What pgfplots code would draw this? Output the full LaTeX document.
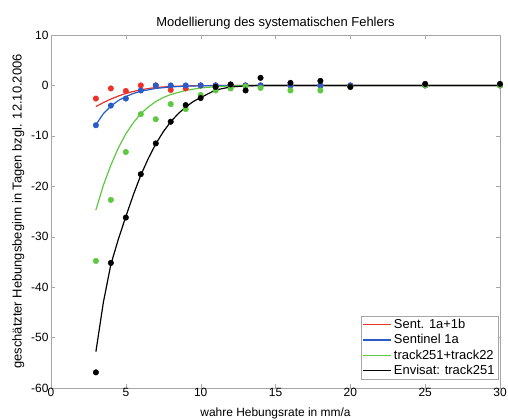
\documentclass[border=0pt]{standalone}
\usepackage{fontspec}
\setmainfont{Liberation Sans}
\usepackage{pgfplots}
\pgfplotsset{compat=1.18}

\definecolor{mred}{RGB}{235,50,40}
\definecolor{mblue}{RGB}{40,90,200}
\definecolor{mgreen}{RGB}{95,200,65}

\begin{document}
\begin{tikzpicture}
\begin{axis}[
  scale only axis, width=449bp, height=353bp,
  xmin=0, xmax=30, ymin=-60, ymax=10,
  xtick={0,5,...,30}, ytick={-60,-50,...,10},
  tick align=inside, tick pos=both,
  axis line style={gray!70}, tick style={gray!70},
  major tick length=4bp,
  /pgf/number format/assume math mode=true,
  tick label style={font=\fontsize{12}{14}\selectfont},
  xticklabel style={yshift=3bp},
  yticklabel style={xshift=1bp},
  title style={font=\fontsize{13}{15}\selectfont, yshift=-4bp},
  title={Modellierung des systematischen Fehlers},
  xlabel={wahre Hebungsrate in mm/a},
  ylabel={geschätzter Hebungsbeginn in Tagen bzgl. 12.10.2006},
  xlabel style={font=\fontsize{12}{14}\selectfont, inner sep=0pt,
    at={(rel axis cs:0.5,0)}, anchor=south, yshift=-31.5bp},
  ylabel style={font=\fontsize{13}{15}\selectfont, yshift=0bp},
  legend style={at={(rel axis cs:0.996,0.023)}, anchor=south east,
    font=\fontsize{13}{14}\selectfont, draw=gray!70, inner sep=1.5bp,
    row sep=0.5bp},
  legend cell align=left,
  legend image code/.code={\draw[#1, line width=1.4pt] (0cm,0cm) -- (1.0cm,0cm);},
  mark options={solid}]

% data points
\addplot[only marks, mark=*, mark size=2.8pt, mred, forget plot] coordinates {
  (3,-2.6) (4,-0.6) (5,-1.1) (6,0) (7,0) (8,-0.9) (9,-0.6) (10,0)
  (11,0) (12,0) (13,0) (14,0) (16,0) (18,0) (20,0) (25,0) (30,0)};
\addplot[only marks, mark=*, mark size=2.8pt, mblue, forget plot] coordinates {
  (3,-7.9) (4,-4.0) (5,-2.6) (6,-1.0) (7,0) (8,0) (9,0) (10,0)
  (11,0) (12,0) (13,0) (14,0) (16,0) (18,0) (20,0) (25,0) (30,0)};
\addplot[only marks, mark=*, mark size=2.8pt, mgreen, forget plot] coordinates {
  (3,-34.8) (4,-22.7) (5,-13.2) (6,-5.7) (7,-6.7) (8,-3.7) (9,-4.7) (10,-1.9)
  (11,-1.0) (12,-0.6) (13,-0.2) (14,-0.5) (16,-1.0) (18,-1.0) (20,-0.3) (25,0) (30,0)};
\addplot[only marks, mark=*, mark size=2.8pt, black, forget plot] coordinates {
  (3,-56.9) (4,-35.2) (5,-26.2) (6,-17.6) (7,-11.5) (8,-7.2) (9,-3.9) (10,-2.5)
  (11,-0.3) (12,0.2) (13,-1.0) (14,1.5) (16,0.5) (18,0.9) (20,-0.3) (25,0.3) (30,0.3)};

% fitted curves
\addplot[mred, line width=1.2pt, no marks] coordinates {
  (3,-4.2) (3.5,-3.4) (4,-2.7) (4.5,-2.1) (5,-1.6) (5.5,-1.2) (6,-0.85)
  (7,-0.4) (8,-0.2) (9,-0.1) (10,-0.05) (12,0) (30,0)};
\addplot[mblue, line width=1.2pt, no marks] coordinates {
  (3,-7.8) (3.5,-5.6) (4,-4.1) (4.5,-3.0) (5,-2.2) (5.5,-1.6) (6,-1.15)
  (7,-0.6) (8,-0.3) (9,-0.15) (10,-0.07) (12,0) (30,0)};
\addplot[mgreen, line width=1.2pt, no marks] coordinates {
  (3,-24.7) (3.5,-19.8) (4,-15.8) (4.5,-12.4) (5,-9.6) (5.5,-7.4) (6,-5.6)
  (6.5,-4.3) (7,-3.2) (7.5,-2.4) (8,-1.8) (9,-1.0) (10,-0.5) (11,-0.25)
  (12,-0.1) (14,0) (30,0)};
\addplot[black, line width=1.2pt, no marks] coordinates {
  (3,-52.8) (3.5,-43.0) (4,-35.5) (4.5,-30.5) (5,-26.0) (5.5,-21.7) (6,-17.8)
  (6.5,-14.5) (7,-11.6) (7.5,-9.2) (8,-7.2) (8.5,-5.6) (9,-4.3) (9.5,-3.2)
  (10,-2.4) (11,-0.9) (12,-0.3) (13,-0.1) (14,0) (30,0)};
\legend{Sent. 1a+1b, Sentinel 1a, track251+track22, Envisat: track251}

\coordinate (sw) at (rel axis cs:0,0);
\coordinate (ne) at (rel axis cs:1,1);
\end{axis}
\pgfresetboundingbox
\path[use as bounding box] ([shift={(-51bp,-32bp)}]sw) rectangle ([shift={(8bp,35bp)}]ne);
\end{tikzpicture}
\end{document}
